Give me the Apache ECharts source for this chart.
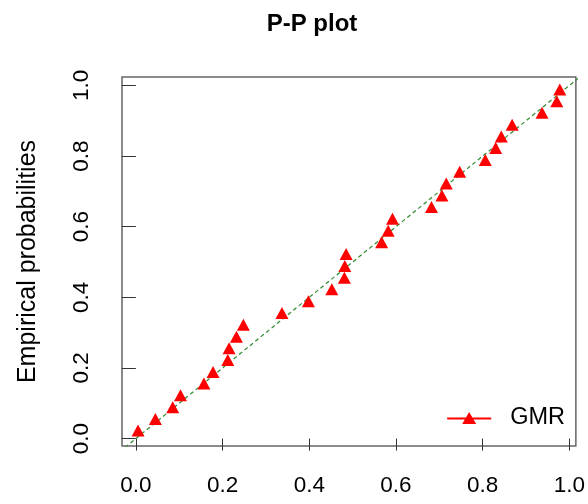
<!DOCTYPE html>
<html lang="en">
<head>
    <meta charset="UTF-8">
    <title>P-P plot</title>
    <script src="https://cdn.jsdelivr.net/npm/echarts@6.0.0/dist/echarts.min.js"></script>
    <style>
        * { margin: 0; padding: 0; }
        body { background: #fff; }
        #chart { width: 588px; height: 504px; }
    </style>
</head>
<body>
    <div id="chart"></div>
    <script>
        // theoretical (x) vs empirical (y) probabilities
        const theoretical = [0.005, 0.045, 0.085, 0.103, 0.157, 0.178, 0.212, 0.215, 0.232, 0.248,
                             0.337, 0.398, 0.452, 0.481, 0.482, 0.485, 0.567, 0.582, 0.592, 0.682,
                             0.706, 0.716, 0.747, 0.806, 0.830, 0.843, 0.868, 0.937, 0.971, 0.978];
        const empirical = [0.017, 0.050, 0.083, 0.117, 0.150, 0.183, 0.217, 0.250, 0.283, 0.317,
                           0.350, 0.383, 0.417, 0.450, 0.483, 0.517, 0.550, 0.583, 0.617, 0.650,
                           0.683, 0.717, 0.750, 0.783, 0.817, 0.850, 0.883, 0.917, 0.950, 0.983];
        const tickValues = [0, 0.2, 0.4, 0.6, 0.8, 1.0];
        const refLine = [-0.1, 1.1];   // y = x

        const font = 'Liberation Sans, Arial, sans-serif';
        const points = theoretical.map((x, i) => [x, empirical[i]]);

        const chart = echarts.init(document.getElementById('chart'));
        chart.setOption({
            animation: false,
            title: {
                text: 'P-P plot',
                left: 307,
                top: 7,
                textAlign: 'center',
                textStyle: { fontFamily: font, fontSize: 24, fontWeight: 'bold', color: '#000' }
            },
            grid: {
                left: 122, right: 12, top: 77, bottom: 58,
                show: true,
                borderColor: '#666',
                borderWidth: 1.5
            },
            legend: {
                right: 18,
                bottom: 69,
                itemWidth: 44,
                itemHeight: 12,
                data: [{
                    name: 'GMR',
                    icon: 'path://M0,5.5H44V7.5H0Z M22,0L29,12H15Z'
                }],
                formatter: '{t|{name}}',
                textStyle: {
                    rich: { t: { fontFamily: font, fontSize: 23.5, color: '#000', padding: [0, 0, 0, 14] } }
                }
            },
            xAxis: {
                type: 'value',
                min: -0.032,
                max: 1.015,
                offset: 2,
                splitLine: { show: false },
                axisLine: { show: false },
                axisTick: { customValues: tickValues, length: 12, lineStyle: { color: '#333' } },
                axisLabel: {
                    customValues: tickValues,
                    margin: 26,
                    fontFamily: font, fontSize: 22.5, color: '#000',
                    formatter: v => v.toFixed(1)
                }
            },
            yAxis: {
                type: 'value',
                min: -0.021,
                max: 1.024,
                offset: 1,
                name: 'Empirical probabilities',
                nameLocation: 'middle',
                nameGap: 80,
                nameTextStyle: { fontFamily: font, fontSize: 25, color: '#000' },
                splitLine: { show: false },
                axisLine: { show: false },
                axisTick: { customValues: tickValues, length: 14, lineStyle: { color: '#333' } },
                axisLabel: {
                    customValues: tickValues,
                    rotate: 90,
                    margin: 28,
                    fontFamily: font, fontSize: 22.5, color: '#000',
                    formatter: v => v.toFixed(1)
                }
            },
            series: [
                {
                    type: 'line',
                    data: refLine.map(v => [v, v]),
                    symbol: 'none',
                    clip: true,
                    silent: true,
                    lineStyle: { color: '#2f8a2f', width: 1.2, type: [4, 3] },
                    z: 1
                },
                {
                    name: 'GMR',
                    type: 'scatter',
                    data: points,
                    symbol: 'triangle',
                    symbolSize: [13, 12],
                    symbolOffset: [0, -2],
                    itemStyle: { color: '#ff0000', opacity: 1 },
                    z: 2
                }
            ]
        });
    </script>
</body>
</html>
